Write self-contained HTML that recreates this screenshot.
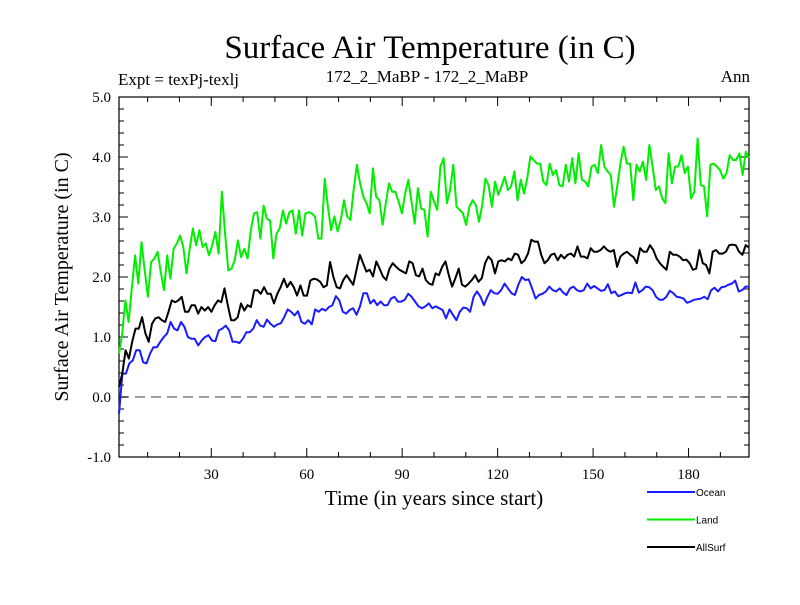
<!DOCTYPE html>
<html><head><meta charset="utf-8"><style>
html,body{margin:0;padding:0;background:#fff;}
svg text{font-family:"Liberation Serif",serif;}
</style></head><body>
<svg id="chart" width="800" height="600" viewBox="0 0 800 600" xmlns="http://www.w3.org/2000/svg">
<text x="430" y="58" font-size="33" text-anchor="middle">Surface Air Temperature (in C)</text>
<text x="118" y="85" font-size="17">Expt = texPj-texlj</text>
<text x="427" y="82" font-size="17" text-anchor="middle">172_2_MaBP - 172_2_MaBP</text>
<text x="750" y="82" font-size="17" text-anchor="end">Ann</text>
<text x="0" y="0" font-size="20" text-anchor="middle" transform="translate(68,277) rotate(-90)">Surface Air Temperature (in C)</text>
<text x="434" y="505" font-size="21" text-anchor="middle">Time (in years since start)</text>
<g id="axes"></g>
<g id="series"></g>
<g id="legend"></g>
</svg>
<script>
const yTicks = [-1, 0, 1, 2, 3, 4, 5];
const yTickLabels = ["-1.0","0.0","1.0","2.0","3.0","4.0","5.0"];
const xTicks = [30, 60, 90, 120, 150, 180];
const seriesNames = ["Ocean","Land","AllSurf"];
const ocean = [-0.28,0.39,0.39,0.56,0.61,0.78,0.78,0.58,0.56,0.72,0.83,0.83,0.92,1.0,1.06,1.25,1.14,1.11,1.25,1.17,1.0,0.97,0.97,0.86,0.94,1.0,1.03,0.94,0.93,1.11,1.14,1.19,1.11,0.92,0.92,0.9,0.97,1.08,1.08,1.14,1.28,1.19,1.17,1.29,1.22,1.17,1.21,1.23,1.33,1.46,1.42,1.36,1.43,1.25,1.22,1.28,1.21,1.46,1.42,1.47,1.44,1.5,1.53,1.68,1.61,1.42,
1.39,1.45,1.48,1.37,1.51,1.73,1.73,1.56,1.62,1.53,1.59,1.53,1.53,1.64,1.67,1.59,1.59,1.62,1.72,1.67,1.59,1.51,1.48,1.51,1.56,1.48,1.51,1.48,1.45,1.31,1.46,1.37,1.28,1.42,1.49,1.48,1.42,1.67,1.76,1.67,1.53,1.67,1.78,1.73,1.72,1.78,1.89,1.81,1.73,1.7,1.87,2.0,1.95,1.96,1.81,1.64,1.7,1.72,1.76,1.84,1.78,
1.76,1.81,1.74,1.7,1.81,1.84,1.78,1.76,1.78,1.89,1.81,1.85,1.81,1.77,1.78,1.88,1.73,1.76,1.68,1.7,1.73,1.74,1.73,1.91,1.74,1.78,1.84,1.83,1.78,1.67,1.62,1.62,1.67,1.77,1.73,1.67,1.66,1.64,1.57,1.59,1.62,1.63,1.64,1.67,1.63,1.78,1.82,1.76,1.83,1.84,1.87,1.89,1.94,1.76,1.78,1.84,1.84];
const land = [0.72,1.06,1.61,1.25,1.83,2.36,1.89,2.58,2.11,1.67,2.25,2.31,2.42,2.08,1.78,2.36,1.97,2.47,2.56,2.69,2.5,2.06,2.47,2.81,2.53,2.78,2.5,2.56,2.36,2.53,2.75,2.39,3.42,2.72,2.11,2.14,2.28,2.61,2.33,2.47,2.31,2.78,3.06,3.08,2.64,3.19,2.97,2.94,2.31,2.72,2.81,3.11,2.89,3.08,3.11,2.72,3.11,2.69,3.06,3.08,3.06,3.0,2.64,2.64,3.64,3.17,2.78,
3.01,2.76,2.95,3.28,3.01,2.95,3.45,3.87,3.56,3.34,3.23,3.06,3.81,3.34,3.28,2.87,3.23,3.56,3.42,3.42,3.26,3.06,3.39,3.62,3.26,2.89,3.48,3.14,3.12,2.67,3.42,3.26,3.12,3.84,3.98,3.23,3.45,3.87,3.17,3.12,3.06,2.87,3.17,3.28,3.2,2.92,3.2,3.64,3.53,3.17,3.59,3.37,3.51,3.67,3.45,3.51,3.76,3.28,3.62,3.39,3.64,4.01,3.95,3.89,3.89,3.59,3.53,3.89,3.7,3.78,3.53,
3.51,3.87,3.59,3.98,3.56,4.06,3.62,3.59,3.51,3.84,3.87,3.73,4.2,3.84,3.76,3.7,3.17,3.51,3.89,4.17,3.89,3.89,3.28,3.87,3.76,3.92,3.62,4.2,3.84,3.45,3.51,3.31,3.23,4.06,3.56,3.84,3.84,4.03,3.73,3.84,3.31,3.42,4.31,3.53,3.51,3.01,3.87,3.89,3.84,3.78,3.64,3.73,4.03,3.95,3.95,4.06,3.7,4.09,3.98];
const allSurf = [0.17,0.39,0.78,0.64,0.92,1.14,1.14,1.33,1.06,0.92,1.22,1.31,1.33,1.28,1.25,1.42,1.61,1.58,1.61,1.67,1.42,1.42,1.53,1.53,1.39,1.5,1.44,1.5,1.42,1.53,1.61,1.58,1.81,1.53,1.28,1.28,1.33,1.56,1.44,1.53,1.5,1.78,1.78,1.72,1.83,1.72,1.72,1.56,1.72,1.83,1.97,1.83,1.92,1.83,1.69,1.86,1.69,1.69,1.94,1.97,1.96,1.92,1.83,1.86,2.25,2.0,1.83,
1.81,1.95,2.03,1.95,1.87,2.12,2.37,2.23,2.09,2.12,2.01,2.26,2.14,2.01,1.95,2.14,2.23,2.17,2.12,2.09,2.06,2.26,2.23,2.03,2.01,2.14,1.95,1.89,1.87,2.06,2.03,2.17,2.26,2.03,1.84,1.98,2.14,1.87,1.84,1.89,1.95,2.03,1.92,1.98,2.23,2.34,2.28,2.06,2.26,2.28,2.26,2.31,2.28,2.39,2.37,2.23,2.28,2.39,2.62,2.59,2.59,2.37,2.23,2.28,2.37,2.39,2.28,2.37,
2.31,2.37,2.39,2.34,2.51,2.34,2.34,2.31,2.48,2.42,2.42,2.45,2.51,2.45,2.42,2.45,2.17,2.34,2.39,2.42,2.37,2.33,2.23,2.48,2.42,2.42,2.53,2.45,2.31,2.23,2.17,2.12,2.42,2.37,2.37,2.34,2.28,2.29,2.23,2.12,2.14,2.45,2.23,2.2,2.06,2.42,2.45,2.39,2.39,2.42,2.53,2.54,2.53,2.42,2.37,2.53,2.49];

const NS='http://www.w3.org/2000/svg';
const L=119,R=749,T=97,B=457;
const X0=1,X1=199,Y0=-1,Y1=5;
const xScale=v=>L+(v-X0)/(X1-X0)*(R-L);
const yScale=v=>B-(v-Y0)/(Y1-Y0)*(B-T);
function mk(tag,attrs,parent){const e=document.createElementNS(NS,tag);for(const k in attrs)e.setAttribute(k,attrs[k]);parent.appendChild(e);return e;}
const axes=document.getElementById('axes');
const frame=mk('rect',{x:L,y:T,width:R-L,height:B-T,fill:'none',stroke:'#000','stroke-width':1.2},axes);


// zero line
const zl=mk('line',{x1:L,x2:R,y1:yScale(0),y2:yScale(0),stroke:'#808080','stroke-width':1.5,'stroke-dasharray':'10,6'},axes);


// y minor ticks
for(let k=0;k<=30;k++){const v=Y0+k*0.2;const maj=(k%5===0);const len=maj?9:5;const y=yScale(v);
 mk('line',{x1:L,x2:L+len,y1:y,y2:y,stroke:'#000','stroke-width':1},axes);
 mk('line',{x1:R-len,x2:R,y1:y,y2:y,stroke:'#000','stroke-width':1},axes);}
yTicks.forEach((v,i)=>{const t=mk('text',{x:111,y:yScale(v)+5,'font-size':15,'text-anchor':'end'},axes);t.textContent=yTickLabels[i];
 
 });
for(let v=10;v<X1;v+=10){const maj=(v%30===0);const len=maj?9:5;const x=xScale(v);
 mk('line',{x1:x,x2:x,y1:B-len,y2:B,stroke:'#000','stroke-width':1},axes);
 mk('line',{x1:x,x2:x,y1:T,y2:T+len,stroke:'#000','stroke-width':1},axes);}
xTicks.forEach(v=>{const t=mk('text',{x:xScale(v),y:479,'font-size':15,'text-anchor':'middle'},axes);t.textContent=String(v);
 
 });
const colors={Ocean:'#1a1aff',Land:'#00ee00',AllSurf:'#000000'};
const sg=document.getElementById('series');
[[ocean,'Ocean'],[land,'Land'],[allSurf,'AllSurf']].forEach(([arr,name])=>{
 const n=arr.length;const pts=arr.map((v,i)=>xScale(X0+i*(X1-X0)/(n-1)).toFixed(1)+','+yScale(v).toFixed(1)).join(' ');
 const p=mk('polyline',{points:pts,fill:'none',stroke:colors[name],'stroke-width':2,'stroke-linejoin':'round'},sg);
 
 });
const lg=document.getElementById('legend');
seriesNames.forEach((name,i)=>{const y=492+i*27.5;
 const g=mk('g',{},lg);
 
 
 mk('line',{x1:647,x2:695,y1:y,y2:y,stroke:colors[name],'stroke-width':2},g);
 const t=mk('text',{x:696,y:y+4,'font-size':10,style:'font-family:"Liberation Sans",sans-serif'},g);t.textContent=name;});
</script>
</body></html>
